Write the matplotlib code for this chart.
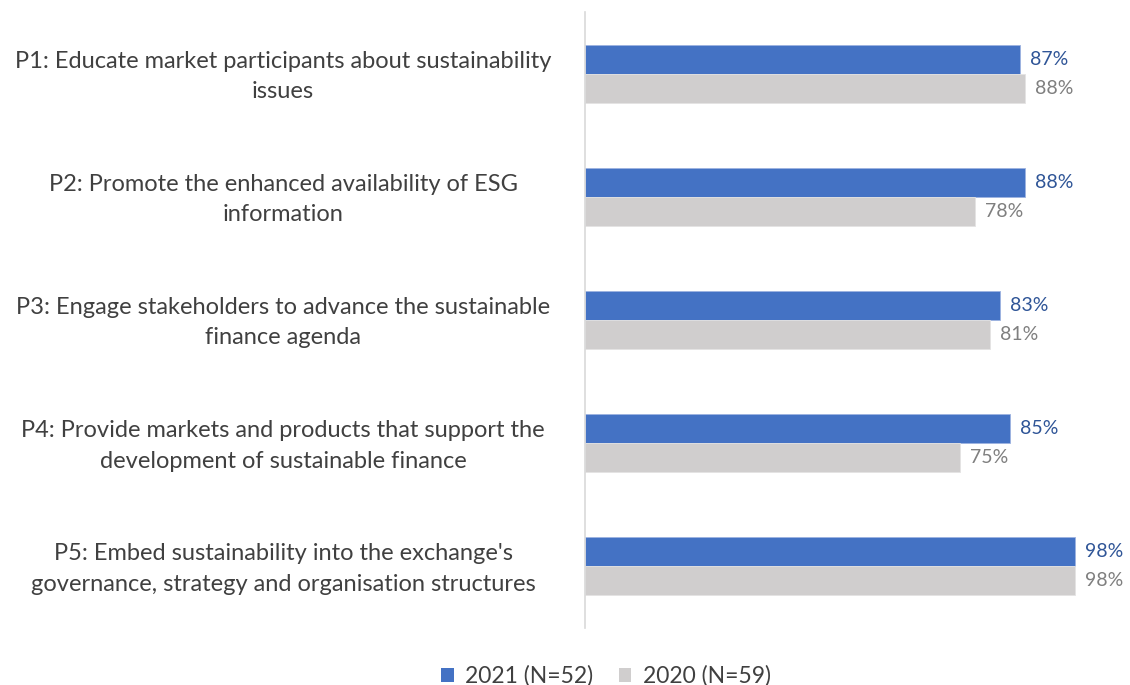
import matplotlib
matplotlib.use("Agg")
import matplotlib.pyplot as plt
import matplotlib.transforms as mtransforms
import numpy as np
from matplotlib.patches import Patch

categories = [
    "P1: Educate market participants about sustainability\nissues",
    "P2: Promote the enhanced availability of ESG\ninformation",
    "P3: Engage stakeholders to advance the sustainable\nfinance agenda",
    "P4: Provide markets and products that support the\ndevelopment of sustainable finance",
    "P5: Embed sustainability into the exchange's\ngovernance, strategy and organisation structures",
]
values_2021 = [87, 88, 83, 85, 98]
values_2020 = [88, 78, 81, 75, 98]
series_names = ["2021 (N=52)", "2020 (N=59)"]

blue = "#4472C4"
grey = "#D0CECE"
blue_txt = "#2F5597"
grey_txt = "#7F7F7F"
label_col = "#404040"

plt.rcParams['font.family'] = ['Lato', 'DejaVu Sans']

W, H = 1130, 685
fig = plt.figure(figsize=(W / 100, H / 100), dpi=100)
ax = fig.add_axes([585 / W, 1 - 628 / H, 500 / W, 616 / H])

n = len(categories)
y = np.arange(n)
bh = 0.235
ax.barh(y - bh / 2, values_2021, height=bh, color=blue, edgecolor="#9DB3E0", linewidth=0.6)
ax.barh(y + bh / 2, values_2020, height=bh, color=grey, edgecolor="#E4E3E3", linewidth=0.6)

for i in range(n):
    ax.text(values_2021[i] + 2.0, y[i] - bh / 2, f"{values_2021[i]}%", va="center", ha="left",
            color=blue_txt, fontsize=14, clip_on=False)
    ax.text(values_2020[i] + 2.0, y[i] + bh / 2, f"{values_2020[i]}%", va="center", ha="left",
            color=grey_txt, fontsize=14, clip_on=False)

ax.set_xlim(0, 100)
ax.set_ylim(n - 0.5, -0.5)
ax.set_yticks(y)
ax.set_yticklabels(categories, fontsize=17, color=label_col, ha="center", linespacing=1.55)
ax.tick_params(axis="y", length=0, pad=(585 - 283) / 1.389)
shift = mtransforms.ScaledTranslation(0, 4 / 100, fig.dpi_scale_trans)
for lab in ax.get_yticklabels():
    lab.set_transform(lab.get_transform() + shift)
ax.set_xticks([])
for s in ["top", "right", "bottom"]:
    ax.spines[s].set_visible(False)
ax.spines["left"].set_color("#D9D9D9")
ax.spines["left"].set_linewidth(1.2)

handles = [Patch(facecolor=blue, label=series_names[0]), Patch(facecolor=grey, label=series_names[1])]
fig.legend(handles=handles, loc="center", bbox_to_anchor=(606 / W, 1 - 676 / H), ncol=2, frameon=False,
           fontsize=16.5, handlelength=0.55, handleheight=0.55, handletextpad=0.5, columnspacing=1.1,
           labelcolor=label_col)

fig.savefig("out.png", dpi=100)
